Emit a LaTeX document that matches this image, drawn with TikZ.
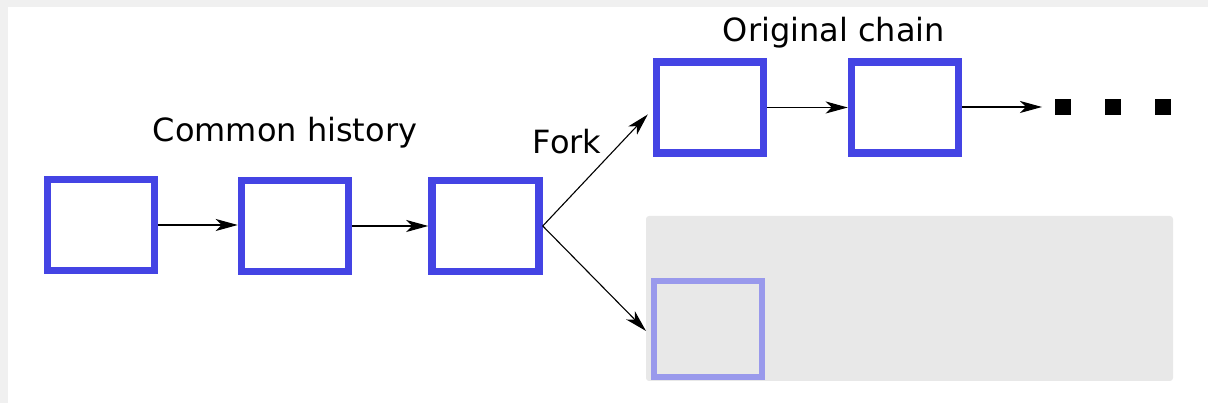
\documentclass[tikz,border=0pt]{standalone}
\usepackage{fontspec}
\setmainfont{DejaVu Sans}
\usetikzlibrary{arrows, arrows.meta, calc, positioning}
\definecolor{blockBlue}{RGB}{68,68,228}
\definecolor{orphanBlue}{RGB}{153,153,236}
\definecolor{forkGray}{RGB}{232,232,232}
\definecolor{edgeGray}{RGB}{240,240,240}
\tikzset{
    block/.style={rectangle, draw=blockBlue, line width=7.5pt, fill=white, minimum width=107pt, minimum height=91pt, inner sep=0pt},
    orphan/.style={rectangle, draw=orphanBlue, line width=6pt, fill=forkGray, minimum width=108pt, minimum height=96pt, inner sep=0pt},
    dotBlk/.style={rectangle, fill=black, minimum size=16pt, inner sep=0pt},
    chainEdge/.style={-{Stealth[length=22pt, width=12pt, inset=6pt]}, line width=1.1pt},
    caption/.style={font=\fontsize{32}{35}\selectfont, inner sep=0pt},
}
\newcommand{\linkBlocks}[2]{
    \draw[chainEdge] (#1.east) -- (#1.east -| #2.west);
}
\begin{document}
\begin{tikzpicture}[x=1pt, y=1pt]
        \useasboundingbox (0,0) rectangle (1208,403);
        \fill[edgeGray] (0,0) rectangle (8,403);
        \fill[edgeGray] (0,396) rectangle (1208,403);

        % fork region
        \fill[forkGray, rounded corners=3pt] (646,22) rectangle (1173,187);

        \node[block] (b1) at (101,178) {};
        \node[block] (b2) at (295,177) {};
        \node[block] (b3) at (485.5,177) {};
        \node[block] (top1) at (710,295.5) {};
        \node[block] (top2) at (905,295.5) {};
        \node[orphan] (low1) at (708,74) {};

        \node[dotBlk] (d1) at (1063,296) {};
        \node[dotBlk] (d2) at (1113,296) {};
        \node[dotBlk] (d3) at (1163,296) {};
        \coordinate (tail) at (1042,296);

        \node[caption] (common) at (285,270) {Common history};
        \node[caption] (fork) at (567,261) {Fork};
        \node[caption] (original) at (834,370) {Original chain};

        \linkBlocks{b1}{b2}
        \linkBlocks{b2}{b3}
        \linkBlocks{top1}{top2}
        \draw[chainEdge] (top2.east |- tail) -- (tail);
        \draw[chainEdge] (b3.east) -- ($(top1.west)+(-5,-7)$);
        \draw[chainEdge] (b3.east) -- ($(low1.west)+(-5,-2)$);

    \end{tikzpicture}
\end{document}
